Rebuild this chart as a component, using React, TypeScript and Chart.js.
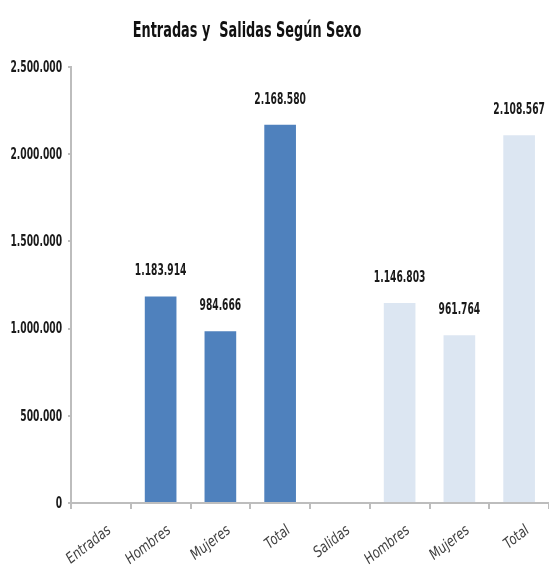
import React, { useEffect, useRef } from "react";
import { Chart, registerables } from "chart.js";

Chart.register(...registerables);

const title = "Entradas y  Salidas Según Sexo";
const categories = ["Entradas", "Hombres", "Mujeres", "Total", "Salidas", "Hombres", "Mujeres", "Total"];
const values: (number | null)[] = [null, 1183914, 984666, 2168580, null, 1146803, 961764, 2108567];
const groups = ["Entradas", "Entradas", "Entradas", "Entradas", "Salidas", "Salidas", "Salidas", "Salidas"];
const groupColors: Record<string, string> = { Entradas: "#4F81BD", Salidas: "#DCE6F2" };
const yTicks = [0, 500000, 1000000, 1500000, 2000000, 2500000];

const FONT = '"DejaVu Sans", "Noto Sans", sans-serif';

function fmt(v: number): string {
  return String(Math.round(v)).replace(/\B(?=(\d{3})+(?!\d))/g, ".");
}

function drawCondensed(ctx: CanvasRenderingContext2D, text: string, x: number, y: number, sx: number, rot = 0) {
  ctx.save();
  ctx.translate(x, y);
  if (rot) ctx.rotate(rot);
  ctx.scale(sx, 1);
  ctx.fillText(text, 0, 0);
  ctx.restore();
}

const labelPlugin = {
  id: "valueLabels",
  afterDatasetsDraw(chart: any) {
    const ctx = chart.ctx;
    const meta = chart.getDatasetMeta(0);
    ctx.save();
    ctx.font = `bold 15px ${FONT}`;
    ctx.fillStyle = "#1a1a1a";
    ctx.textAlign = "center";
    ctx.textBaseline = "middle";
    meta.data.forEach((el: any, i: number) => {
      const v = values[i];
      if (v == null) return;
      drawCondensed(ctx, fmt(v), el.x, el.y - 25, 0.61);
    });
    ctx.restore();
  },
};

const axisLabelPlugin = {
  id: "axisLabels",
  afterDraw(chart: any) {
    const ctx = chart.ctx;
    const ys = chart.scales.y;
    const xs = chart.scales.x;
    ctx.save();
    ctx.font = `bold 15px ${FONT}`;
    ctx.fillStyle = "#1a1a1a";
    ctx.textAlign = "right";
    ctx.textBaseline = "middle";
    yTicks.forEach((v) => {
      drawCondensed(ctx, fmt(v), ys.right - 9, ys.getPixelForValue(v) + 1, 0.61);
    });
    ctx.font = `italic 15px ${FONT}`;
    ctx.fillStyle = "#404040";
    ctx.textAlign = "right";
    ctx.textBaseline = "top";
    const ang = (-38 * Math.PI) / 180;
    categories.forEach((c, i) => {
      const x = xs.getPixelForTick(i);
      drawCondensed(ctx, c, x + 4, xs.top + 20, 0.78, ang);
    });
    ctx.restore();
  },
};

const titlePlugin = {
  id: "customTitle",
  afterDraw(chart: any) {
    const ctx = chart.ctx;
    ctx.save();
    ctx.font = `bold 22px ${FONT}`;
    ctx.fillStyle = "#111";
    ctx.textAlign = "center";
    ctx.textBaseline = "alphabetic";
    drawCondensed(ctx, title, 247, 37, 0.585);
    ctx.restore();
  },
};

export default function App() {
  const ref = useRef<HTMLCanvasElement | null>(null);
  useEffect(() => {
    if (!ref.current) return;
    const chart = new Chart(ref.current, {
      type: "bar",
      data: {
        labels: categories,
        datasets: [
          {
            data: values as any,
            backgroundColor: groups.map((g) => groupColors[g]),
            barPercentage: 0.53,
            categoryPercentage: 1,
          },
        ],
      },
      options: {
        animation: false,
        responsive: false,
        maintainAspectRatio: false,
        layout: { padding: { top: 67, right: 0, left: 0, bottom: 0 } },
        plugins: { legend: { display: false }, tooltip: { enabled: false }, title: { display: false } },
        scales: {
          x: {
            offset: true,
            grid: {
              offset: true,
              drawOnChartArea: false,
              drawTicks: true,
              tickLength: 6,
              color: "#BDBDBD",
              lineWidth: 2,
            },
            border: { color: "#BDBDBD", width: 2 },
            ticks: { display: false },
            afterFit(scale: any) {
              scale.height = 66;
            },
          },
          y: {
            min: 0,
            max: 2500000,
            afterBuildTicks(scale: any) {
              scale.ticks = yTicks.map((v) => ({ value: v }));
            },
            grid: {
              drawOnChartArea: false,
              drawTicks: true,
              tickLength: 3,
              color: "#BDBDBD",
              lineWidth: 2,
            },
            border: { color: "#BDBDBD", width: 2 },
            ticks: { display: false },
            afterFit(scale: any) {
              scale.width = 71;
            },
          },
        },
      },
      plugins: [labelPlugin, axisLabelPlugin, titlePlugin],
    });
    return () => chart.destroy();
  }, []);
  return (
    <div style={{ position: "fixed", left: 0, top: 0, width: 549, height: 569, background: "#fff" }}>
      <canvas ref={ref} width={549} height={569} style={{ width: 549, height: 569 }} />
    </div>
  );
}
